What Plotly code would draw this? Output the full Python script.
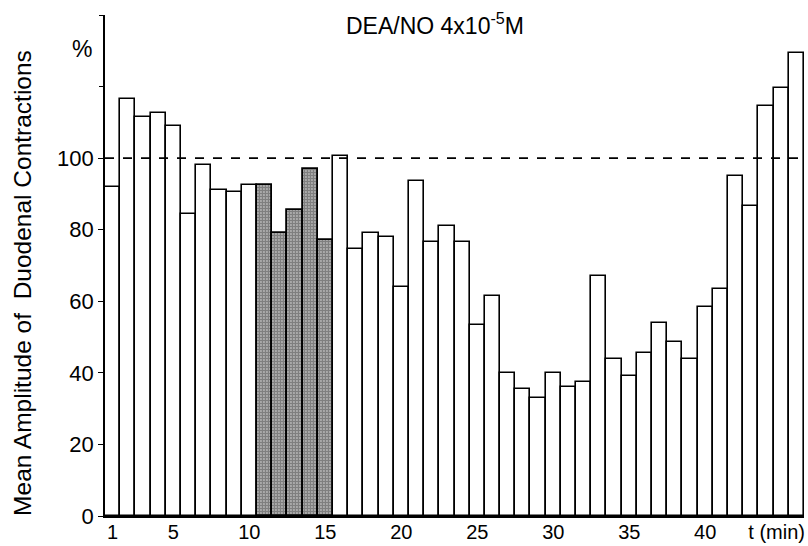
import plotly.graph_objects as go

# Minutes 1..46 and mean contraction amplitude (% of control)
minutes = list(range(1, 47))
amplitude = [
    92, 116.5, 111.5, 112.5, 109, 84.5, 98, 91, 90.5, 92.5,
    92.5, 79, 85.5, 97, 77, 100.7, 74.5, 79, 78, 64,
    93.5, 76.5, 81, 76.5, 53.5, 61.5, 40, 35.5, 33, 40,
    36, 37.5, 67, 44, 39, 45.5, 54, 48.5, 44, 58.5,
    63.5, 95, 86.5, 114.5, 119.5, 129.5,
]
# Minutes during which DEA/NO was applied (stippled bars)
treated = [11, 12, 13, 14, 15]

x_tick_vals = [1, 5, 10, 15, 20, 25, 30, 35, 40, 44.7]
x_tick_text = ["1", "5", "10", "15", "20", "25", "30", "35", "40", "t (min)"]
y_label_vals = [0, 20, 40, 60, 80, 100]
y_upper_ticks = [120, 140]

FONT = "Liberation Sans, Arial, Helvetica, sans-serif"

plain_x = [m for m in minutes if m not in treated]
plain_y = [amplitude[m - 1] for m in plain_x]
dose_x = [m for m in minutes if m in treated]
dose_y = [amplitude[m - 1] for m in dose_x]

fig = go.Figure()
fig.add_trace(go.Bar(
    x=plain_x, y=plain_y, width=1,
    marker=dict(color="white", line=dict(color="black", width=1.6)),
    showlegend=False,
))
fig.add_trace(go.Bar(
    x=dose_x, y=dose_y, width=1,
    marker=dict(
        color="white",
        line=dict(color="black", width=1.8),
        pattern=dict(shape=".", fgcolor="black", bgcolor="white",
                     size=3, solidity=0.8),
    ),
    showlegend=False,
))

# Control level
fig.add_shape(type="line", xref="x", yref="y", x0=0.5, x1=46.5, y0=100, y1=100,
              line=dict(color="black", width=1.6, dash="dash"))

fig.add_annotation(text="DEA/NO 4x10<sup>-5</sup>M", xref="x", yref="paper",
                   x=22.2, y=0.982, showarrow=False, yanchor="middle",
                   font=dict(family=FONT, size=23, color="black"))
fig.add_annotation(text="%", xref="paper", yref="y", x=-0.033, y=130.5,
                   xanchor="center", yanchor="middle",
                   showarrow=False, font=dict(family=FONT, size=23, color="black"))
fig.add_annotation(text="Mean Amplitude of  Duodenal Contractions",
                   xref="paper", yref="y", x=-0.118, y=65, textangle=-90,
                   xanchor="center", yanchor="middle",
                   showarrow=False, font=dict(family=FONT, size=24.5, color="black"))

# Unlabelled tick marks above 100 on an overlaid axis
fig.add_trace(go.Scatter(x=[1], y=[0], yaxis="y2", mode="markers",
                         marker=dict(opacity=0), showlegend=False,
                         hoverinfo="skip"))

fig.update_layout(
    width=808, height=546,
    margin=dict(l=105, r=4, t=15, b=30, autoexpand=False),
    paper_bgcolor="white", plot_bgcolor="white",
    bargap=0, barmode="overlay",
    font=dict(family=FONT, size=21, color="black"),
    xaxis=dict(
        range=[0.5, 46.5], tickmode="array", tickvals=x_tick_vals,
        ticktext=x_tick_text, showgrid=False, zeroline=False, showline=True,
        linecolor="black", linewidth=1.6, ticks="", automargin=False,
        ticklabelstandoff=-3,
        tickfont=dict(family=FONT, size=20, color="black"),
    ),
    yaxis=dict(
        range=[0, 140], tickmode="array", tickvals=y_label_vals,
        showgrid=False, zeroline=False, showline=True,
        linecolor="black", linewidth=1.6, automargin=False,
        ticks="outside", ticklen=5, tickwidth=1.4, tickcolor="black",
        tickfont=dict(family=FONT, size=22, color="black"),
    ),
    yaxis2=dict(
        overlaying="y", side="left", range=[0, 140], automargin=False,
        tickmode="array", tickvals=y_upper_ticks, showticklabels=False,
        ticks="outside", ticklen=5, tickwidth=1.4, tickcolor="black",
        showgrid=False, zeroline=False, showline=False,
    ),
)

fig.write_html("out.html")
